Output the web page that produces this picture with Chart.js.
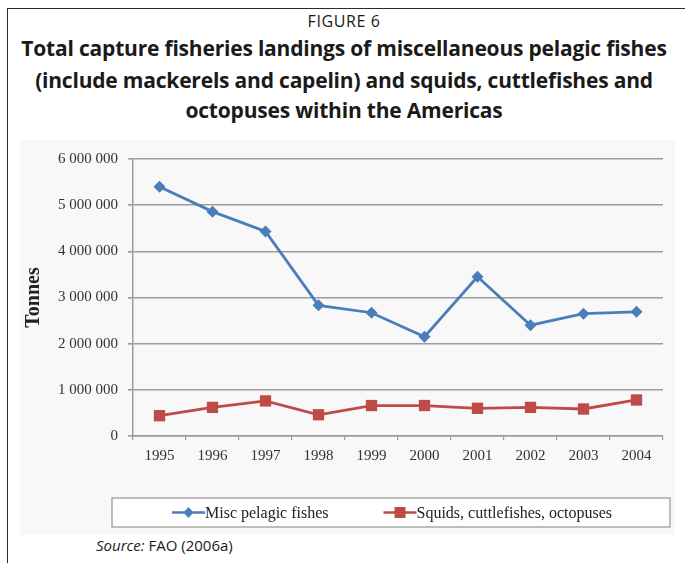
<!DOCTYPE html>
<html>
<head>
<meta charset="utf-8">
<script src="https://cdn.jsdelivr.net/npm/chart.js@4.4.1/dist/chart.umd.min.js"></script>
<style>
  html, body { margin: 0; padding: 0; background: #fff; }
  body { width: 685px; height: 563px; position: relative; overflow: hidden; font-family: "Open Sans", "Noto Sans", sans-serif; }
  #frame { position: absolute; left: 7px; top: 8px; width: 720px; height: 600px; border-top: 1.5px solid #2a2a2a; border-left: 1.5px solid #2a2a2a; }
  .t { position: absolute; left: 0; width: 688px; text-align: center; color: #1a1a1a; white-space: nowrap; }
  #fig { top: 10px; font-size: 16px; letter-spacing: 0.6px; line-height: 22px; }
  .b { font-weight: 700; font-size: 21px; line-height: 30px; letter-spacing: -0.2px; }
  #l1 { top: 33px; } #l2 { top: 64.5px; } #l3 { top: 95px; }
  #wrap { position: absolute; left: 20px; top: 140px; width: 655px; height: 395px; background: #f8f8f8; }
  #src { position: absolute; left: 96px; top: 535px; font-size: 15px; color: #1a1a1a; }
</style>
</head>
<body>
<div id="frame"></div>
<div class="t" id="fig">FIGURE 6</div>
<div class="t b" id="l1">Total capture fisheries landings of miscellaneous pelagic fishes</div>
<div class="t b" id="l2">(include mackerels and capelin) and squids, cuttlefishes and</div>
<div class="t b" id="l3">octopuses within the Americas</div>
<div id="wrap"><canvas id="c" width="655" height="395"></canvas></div>
<div id="src"><i>Source:</i> FAO (2006a)</div>
<script>
const years = ["1995","1996","1997","1998","1999","2000","2001","2002","2003","2004"];
const miscPelagic = [5400000, 4860000, 4430000, 2830000, 2670000, 2150000, 3450000, 2400000, 2650000, 2690000];
const squids = [440000, 620000, 760000, 460000, 660000, 660000, 600000, 620000, 585000, 780000];
const seriesNames = ["Misc pelagic fishes", "Squids, cuttlefishes, octopuses"];
const yTicks = [0, 1000000, 2000000, 3000000, 4000000, 5000000, 6000000];

const BLUE = '#4a7ebb';
const RED = '#be4b48';
const SERIF = '"Liberation Serif", "DejaVu Serif", serif';

const fmt = v => String(v).replace(/\B(?=(\d{3})+(?!\d))/g, ' ');

// Legend drawn in a plugin, below the axis, inside a bordered box
const boxedLegend = {
  id: 'boxedLegend',
  afterDraw(chart) {
    const ca = chart.chartArea;
    const ctx = chart.ctx;
    const cy = ca.bottom + 76.5;
    const bx = ca.left - 21, bw = ca.right - ca.left + 28, bh = 29;
    ctx.save();
    ctx.fillStyle = '#ffffff';
    ctx.fillRect(bx, cy - bh / 2, bw, bh);
    ctx.strokeStyle = '#a8a8a8';
    ctx.lineWidth = 1.5;
    ctx.strokeRect(bx, cy - bh / 2, bw, bh);
    ctx.font = '16px ' + SERIF;
    ctx.textBaseline = 'middle';
    ctx.textAlign = 'left';
    let x = ca.left + 39;
    chart.data.datasets.forEach((ds, i) => {
      const col = ds.borderColor;
      ctx.strokeStyle = col; ctx.fillStyle = col; ctx.lineWidth = 2.5;
      ctx.beginPath(); ctx.moveTo(x, cy); ctx.lineTo(x + 33, cy); ctx.stroke();
      const mx = x + 16.5;
      if (ds.pointStyle === 'rectRot') {
        ctx.beginPath(); ctx.moveTo(mx, cy - 5.5); ctx.lineTo(mx + 5, cy); ctx.lineTo(mx, cy + 5.5); ctx.lineTo(mx - 5, cy); ctx.closePath(); ctx.fill();
      } else {
        ctx.fillRect(mx - 5.5, cy - 5.5, 11, 11);
      }
      ctx.fillStyle = '#222';
      ctx.fillText(ds.label, x + 33, cy + 1);
      x += 33 + ctx.measureText(ds.label).width + 55;
    });
    ctx.restore();
  }
};

new Chart(document.getElementById('c'), {
  type: 'line',
  data: {
    labels: years,
    datasets: [
      { label: seriesNames[0], data: miscPelagic, borderColor: BLUE, backgroundColor: BLUE,
        borderWidth: 2.8, pointStyle: 'rectRot', pointRadius: 6, pointBorderWidth: 0, tension: 0 },
      { label: seriesNames[1], data: squids, borderColor: RED, backgroundColor: RED,
        borderWidth: 2.8, pointStyle: 'rect', pointRadius: 8, pointBorderWidth: 0, tension: 0 }
    ]
  },
  options: {
    responsive: false,
    animation: false,
    devicePixelRatio: 1,
    layout: { padding: { left: 0, right: 12, top: 15, bottom: 59 } },
    plugins: {
      title: { display: false },
      tooltip: { enabled: false },
      legend: { display: false }
    },
    scales: {
      x: {
        offset: true,
        grid: { display: true, drawOnChartArea: false, offset: true, tickLength: 4, color: '#9a9a9a', lineWidth: 1.2 },
        border: { display: true, color: '#9a9a9a', width: 1.5 },
        ticks: { color: '#333', padding: 7, font: { family: SERIF, size: 15 }, maxRotation: 0 },
        afterFit(s) { s.height = 40; }
      },
      y: {
        min: 0, max: 6000000,
        afterBuildTicks(s) { s.ticks = yTicks.map(v => ({ value: v })); },
        grid: { color: '#9c9c9c', lineWidth: 1.6, tickLength: 5 },
        border: { display: true, color: '#9c9c9c', width: 1.5 },
        ticks: { color: '#333', padding: 10, font: { family: SERIF, size: 15 }, callback: v => fmt(v) },
        title: { display: true, text: 'Tonnes', color: '#222', padding: { top: 2, bottom: 0 },
          font: { family: SERIF, size: 20, weight: 'bold' } },
        afterFit(s) { s.width = 113; }
      }
    }
  },
  plugins: [boxedLegend]
});
</script>
</body>
</html>
